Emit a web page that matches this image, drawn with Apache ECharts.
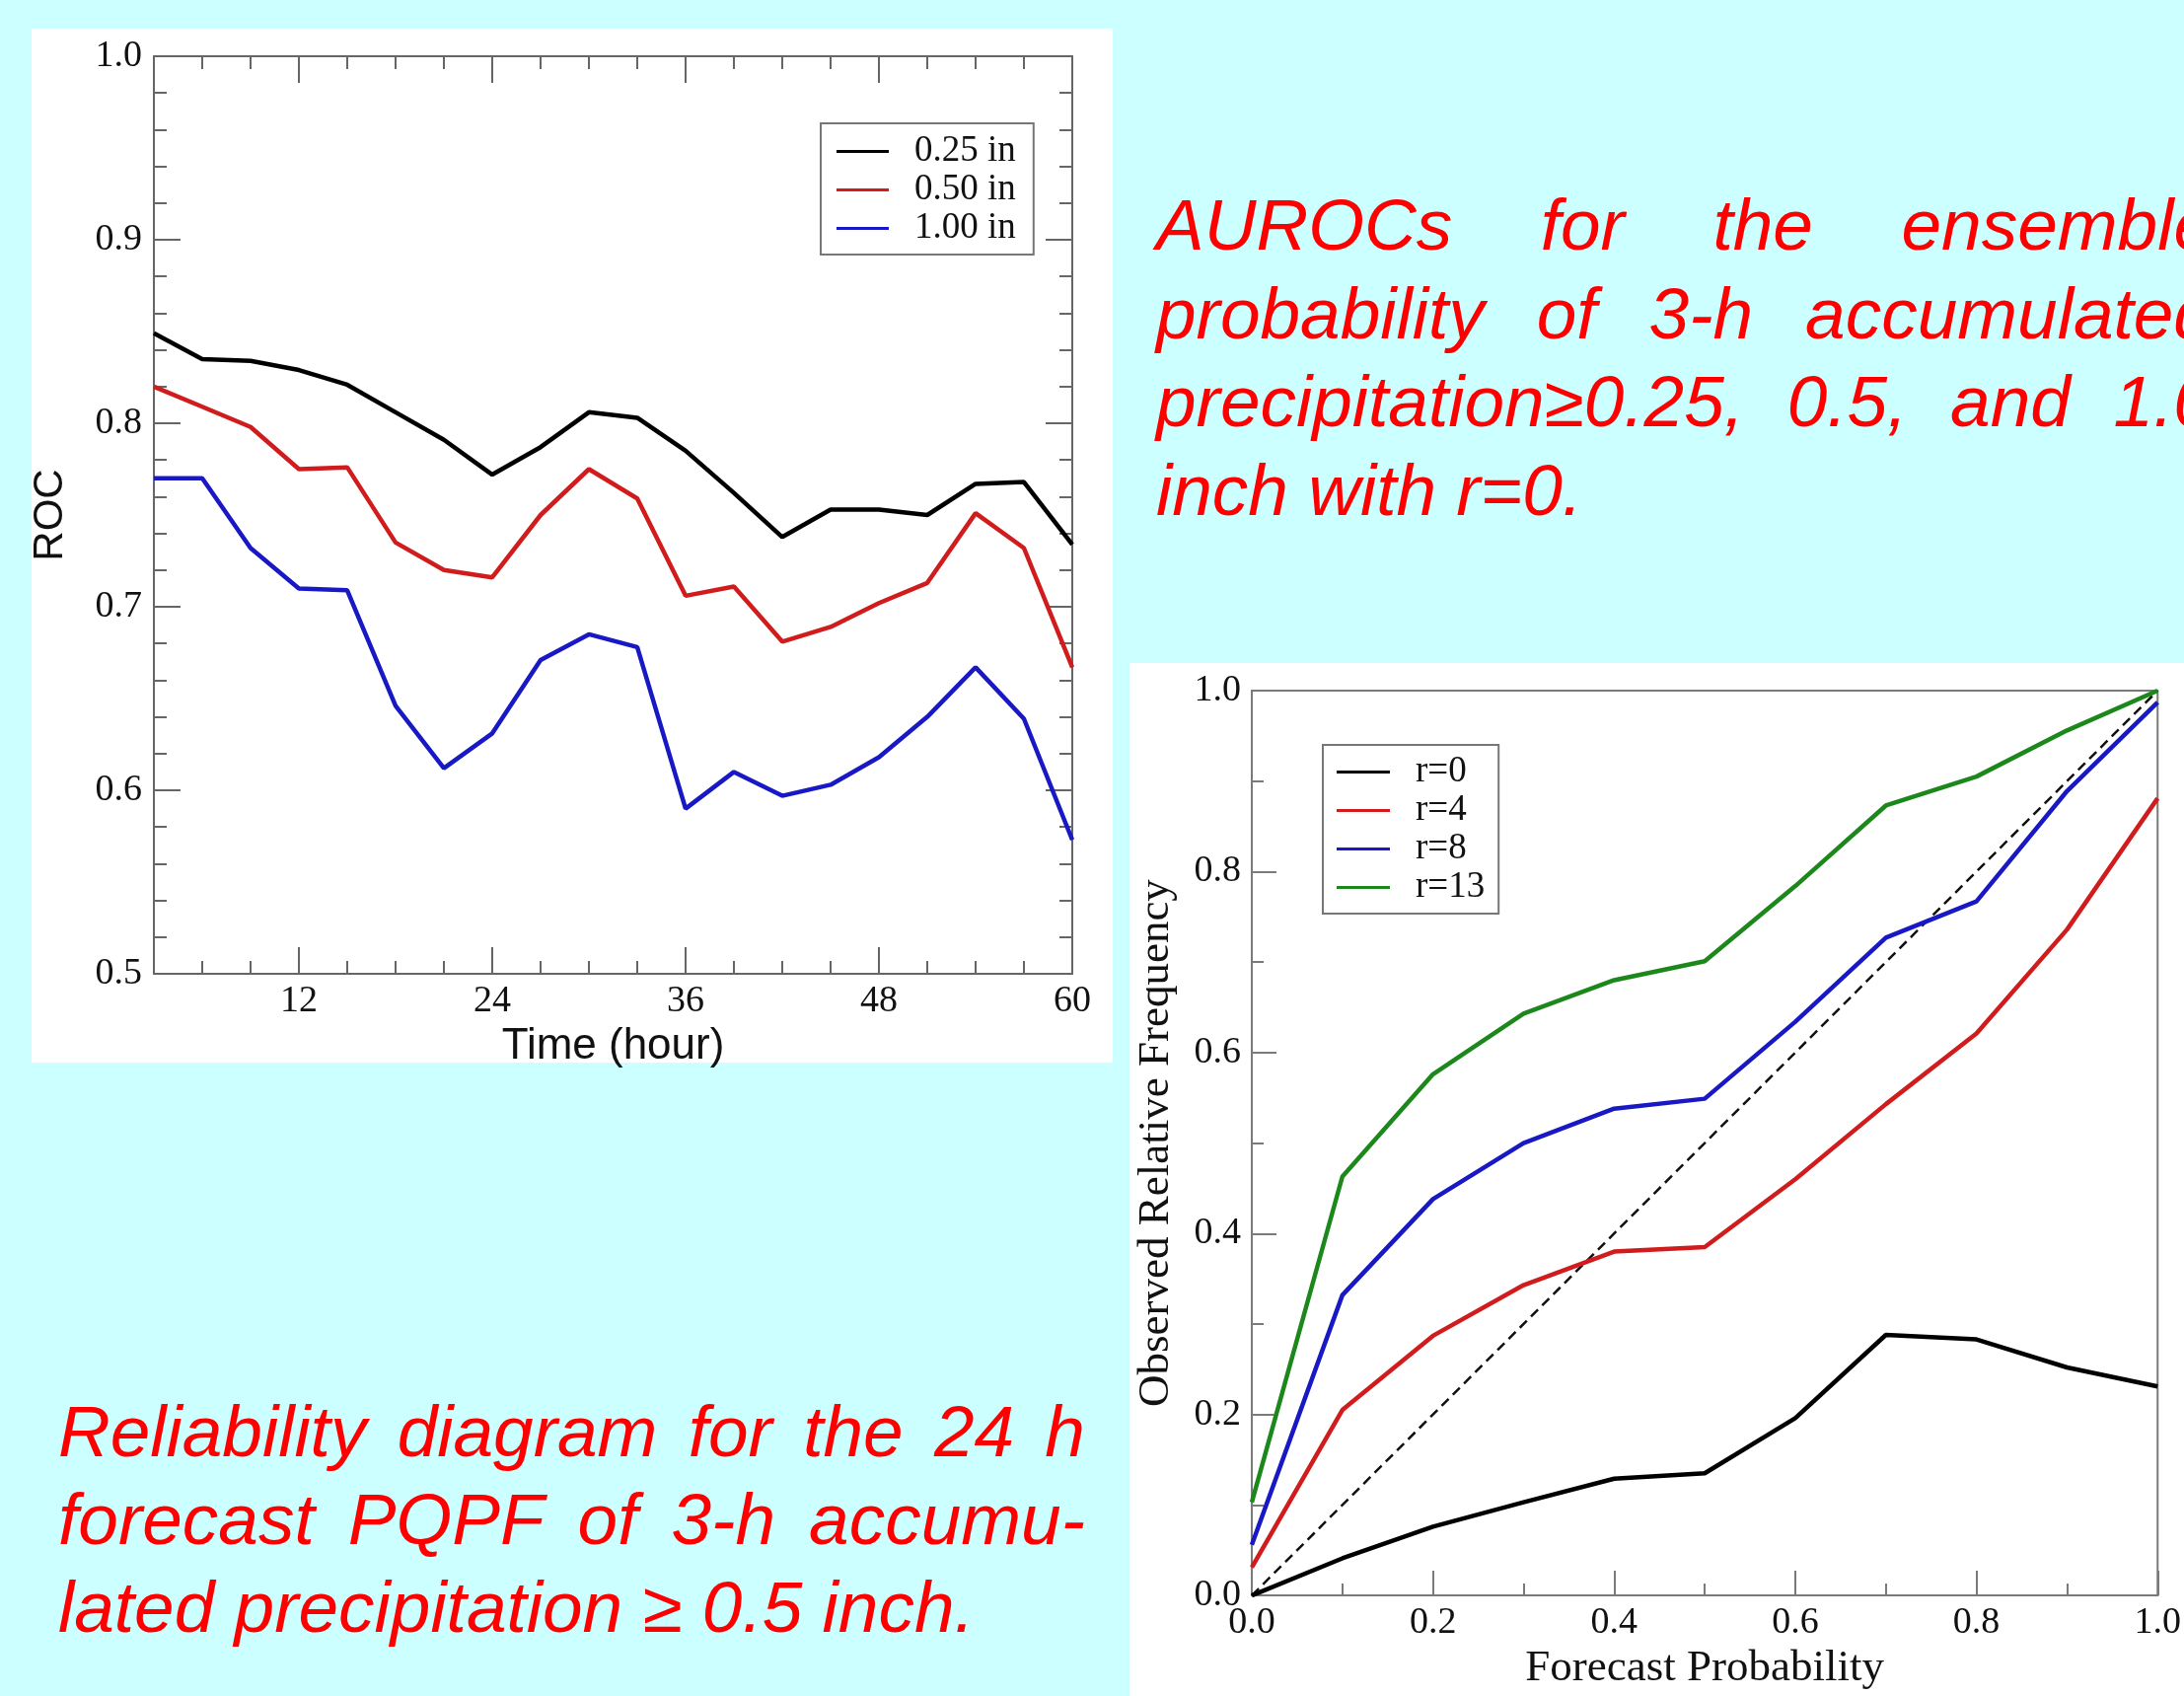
<!DOCTYPE html>
<html>
<head>
<meta charset="utf-8">
<script src="https://cdn.jsdelivr.net/npm/echarts@6/dist/echarts.min.js"></script>
<style>
html, body { margin:0; padding:0; width:2214px; height:1719px; overflow:hidden; background:#ccffff; }
.panel { position:absolute; background:#fff; }
.note { position:absolute; color:#ff0000; font-family:'Liberation Sans', Arial, sans-serif; font-style:italic; }
.note .ln { display:flex; justify-content:space-between; white-space:nowrap; }
.note .last { display:block; white-space:nowrap; }
#chart { position:absolute; left:0; top:0; width:2214px; height:1719px; }
</style>
</head>
<body>
<div class="panel" style="left:32px;top:29px;width:1096px;height:1048px;"></div>
<div class="panel" style="left:1145px;top:672px;width:1069px;height:1047px;"></div>

<div class="note" style="left:1172px;top:183px;width:1072px;font-size:73px;line-height:89.5px;">
  <div class="ln"><span>AUROCs</span><span>for</span><span>the</span><span>ensemble</span></div>
  <div class="ln"><span>probability</span><span>of</span><span>3-h</span><span>accumulated</span></div>
  <div class="ln"><span>precipitation≥0.25,</span><span>0.5,</span><span>and</span><span>1.0</span></div>
  <div class="last">inch with r=0.</div>
</div>

<div class="note" style="left:59px;top:1406px;width:1041px;font-size:73px;line-height:89px;">
  <div class="ln"><span>Reliability</span><span>diagram</span><span>for</span><span>the</span><span>24</span><span>h</span></div>
  <div class="ln"><span>forecast</span><span>PQPF</span><span>of</span><span>3-h</span><span>accumu-</span></div>
  <div class="last">lated precipitation ≥ 0.5 inch.</div>
</div>

<div id="chart"></div>
<script>
// left chart: AUROC vs forecast hour
var hours = [3, 6, 9, 12, 15, 18, 21, 24, 27, 30, 33, 36, 39, 42, 45, 48, 51, 54, 57, 60];
var roc025 = [0.849, 0.835, 0.834, 0.829, 0.821, 0.806, 0.791, 0.772, 0.787, 0.806, 0.803, 0.785, 0.762, 0.738, 0.753, 0.753, 0.750, 0.767, 0.768, 0.734];
var roc050 = [0.820, 0.809, 0.798, 0.775, 0.776, 0.735, 0.720, 0.716, 0.750, 0.775, 0.759, 0.706, 0.711, 0.681, 0.689, 0.702, 0.713, 0.751, 0.732, 0.667];
var roc100 = [0.770, 0.770, 0.732, 0.710, 0.709, 0.646, 0.612, 0.631, 0.671, 0.685, 0.678, 0.590, 0.610, 0.597, 0.603, 0.618, 0.640, 0.667, 0.639, 0.573];
var rocNames = ['0.25 in', '0.50 in', '1.00 in'];
var hourLabels = [12, 24, 36, 48, 60];
var hourMinor = [6, 9, 15, 18, 21, 27, 30, 33, 39, 42, 45, 51, 54, 57];

// right chart: reliability diagram
var fcstProb = [0, 0.1, 0.2, 0.3, 0.4, 0.5, 0.6, 0.7, 0.8, 0.9, 1.0];
var relR0 = [0.000, 0.041, 0.076, 0.103, 0.129, 0.135, 0.196, 0.288, 0.283, 0.252, 0.231];
var relR4 = [0.031, 0.205, 0.287, 0.343, 0.380, 0.385, 0.460, 0.543, 0.621, 0.736, 0.881];
var relR8 = [0.056, 0.332, 0.438, 0.500, 0.538, 0.549, 0.634, 0.727, 0.767, 0.889, 0.987];
var relR13 = [0.103, 0.463, 0.576, 0.643, 0.680, 0.701, 0.784, 0.873, 0.905, 0.956, 1.000];
var relNames = ['r=0', 'r=4', 'r=8', 'r=13'];
var perfect = [0, 1];

var cBlack = '#000000', cRed = '#d01c1c', cBlue = '#1818c4', cGreen = '#1c881c';
var frameGray = '#666666';
var lineW = 4.5;

function pairs(xs, ys) {
  return xs.map(function (x, i) { return [x, ys[i]]; });
}
function tickFont() {
  return { fontFamily: 'Liberation Serif', fontSize: 38, color: '#111' };
}
var fmt1 = function (v) { return v.toFixed(1); };

var leftRect = { left: 156, top: 57, width: 931, height: 930 };
var rightRect = { left: 1269, top: 700, width: 931, height: 929 };

function legendBox(names, left, top, pad, w) {
  return {
    data: names.map(function (n) { return { name: n, icon: 'rect' }; }),
    orient: 'vertical', left: left, top: top,
    padding: pad, itemGap: 2, itemWidth: w, itemHeight: 3,
    borderColor: '#777', borderWidth: 2, backgroundColor: '#fff',
    textStyle: { fontFamily: 'Liberation Serif', fontSize: 37, lineHeight: 34, color: '#111', padding: [0, 0, 0, 21] }
  };
}

var option = {
  animation: false,
  backgroundColor: 'transparent',
  grid: [
    { left: leftRect.left, top: leftRect.top, width: leftRect.width, height: leftRect.height },
    { left: leftRect.left, top: leftRect.top, width: leftRect.width, height: leftRect.height },
    { left: rightRect.left, top: rightRect.top, width: rightRect.width, height: rightRect.height,
      show: true, borderColor: '#7a7a7a', borderWidth: 2 }
  ],
  xAxis: [
    { gridIndex: 0, type: 'value', position: 'bottom', min: 3, max: 60,
      axisLine: { show: true, onZero: false, lineStyle: { color: frameGray, width: 2 } },
      axisTick: { show: true, inside: true, length: 13, customValues: hourMinor, lineStyle: { color: frameGray, width: 2 } },
      axisLabel: { customValues: hourLabels, margin: 9, ...tickFont() },
      splitLine: { show: false },
      name: 'Time (hour)', nameLocation: 'middle', nameGap: 47,
      nameTextStyle: { fontFamily: 'Liberation Sans', fontSize: 44, color: '#111' } },
    { gridIndex: 0, type: 'value', position: 'top', min: 3, max: 60,
      axisLine: { show: true, onZero: false, lineStyle: { color: frameGray, width: 2 } },
      axisTick: { show: true, inside: true, length: 13, customValues: hourMinor, lineStyle: { color: frameGray, width: 2 } },
      axisLabel: { show: false }, splitLine: { show: false } },
    { gridIndex: 1, type: 'value', position: 'bottom', min: 3, max: 60,
      axisLine: { show: false, onZero: false },
      axisTick: { show: true, inside: true, length: 27, customValues: hourLabels, lineStyle: { color: frameGray, width: 2 } },
      axisLabel: { show: false }, splitLine: { show: false } },
    { gridIndex: 1, type: 'value', position: 'top', min: 3, max: 60,
      axisLine: { show: false, onZero: false },
      axisTick: { show: true, inside: true, length: 27, customValues: hourLabels, lineStyle: { color: frameGray, width: 2 } },
      axisLabel: { show: false }, splitLine: { show: false } },
    { gridIndex: 2, type: 'value', position: 'bottom', min: 0, max: 1, interval: 0.2,
      axisLine: { show: true, onZero: false, lineStyle: { color: '#7a7a7a', width: 2 } },
      axisTick: { show: true, inside: true, length: 25, lineStyle: { color: '#7a7a7a', width: 2 } },
      minorTick: { show: true, splitNumber: 2, length: 12, lineStyle: { color: '#7a7a7a', width: 2 } },
      axisLabel: { formatter: fmt1, margin: 9, ...tickFont() },
      splitLine: { show: false },
      name: 'Forecast Probability', nameLocation: 'middle', nameGap: 45,
      nameTextStyle: { fontFamily: 'Liberation Serif', fontSize: 45, color: '#111' } }
  ],
  yAxis: [
    { gridIndex: 0, type: 'value', position: 'left', min: 0.5, max: 1.0, interval: 0.1,
      axisLine: { show: true, onZero: false, lineStyle: { color: frameGray, width: 2 } },
      axisTick: { show: true, inside: true, length: 27, lineStyle: { color: frameGray, width: 2 } },
      minorTick: { show: true, splitNumber: 5, length: 13, lineStyle: { color: frameGray, width: 2 } },
      axisLabel: { formatter: fmt1, margin: 12, ...tickFont() },
      splitLine: { show: false },
      name: 'ROC', nameLocation: 'middle', nameGap: 84,
      nameTextStyle: { fontFamily: 'Liberation Sans', fontSize: 42, color: '#111' } },
    { gridIndex: 0, type: 'value', position: 'right', min: 0.5, max: 1.0, interval: 0.1,
      axisLine: { show: true, onZero: false, lineStyle: { color: frameGray, width: 2 } },
      axisTick: { show: true, inside: true, length: 27, lineStyle: { color: frameGray, width: 2 } },
      minorTick: { show: true, splitNumber: 5, length: 13, lineStyle: { color: frameGray, width: 2 } },
      axisLabel: { show: false }, splitLine: { show: false } },
    { gridIndex: 1, type: 'value', min: 0.5, max: 1.0, show: false },
    { gridIndex: 2, type: 'value', position: 'left', min: 0, max: 1, interval: 0.2,
      axisLine: { show: true, onZero: false, lineStyle: { color: '#7a7a7a', width: 2 } },
      axisTick: { show: true, inside: true, length: 25, lineStyle: { color: '#7a7a7a', width: 2 } },
      minorTick: { show: true, splitNumber: 2, length: 12, lineStyle: { color: '#7a7a7a', width: 2 } },
      axisLabel: { formatter: fmt1, margin: 11, ...tickFont() },
      splitLine: { show: false },
      name: 'Observed Relative Frequency', nameLocation: 'middle', nameGap: 74,
      nameTextStyle: { fontFamily: 'Liberation Serif', fontSize: 45, color: '#111' } }
  ],
  legend: [
    legendBox(rocNames, 832, 125, [10, 18, 8, 16], 53),
    legendBox(relNames, 1341, 755, [9, 14, 8, 14], 54)
  ],
  series: [
    { name: rocNames[0], type: 'line', xAxisIndex: 0, yAxisIndex: 0, data: pairs(hours, roc025),
      symbol: 'none', color: cBlack, lineStyle: { width: lineW, color: cBlack } },
    { name: rocNames[1], type: 'line', xAxisIndex: 0, yAxisIndex: 0, data: pairs(hours, roc050),
      symbol: 'none', color: cRed, lineStyle: { width: lineW, color: cRed } },
    { name: rocNames[2], type: 'line', xAxisIndex: 0, yAxisIndex: 0, data: pairs(hours, roc100),
      symbol: 'none', color: cBlue, lineStyle: { width: lineW, color: cBlue } },
    { name: 'perfect', type: 'line', xAxisIndex: 4, yAxisIndex: 3, data: pairs(perfect, perfect),
      symbol: 'none', color: '#000', lineStyle: { width: 2.5, color: '#111', type: [10, 6] } },
    { name: relNames[0], type: 'line', xAxisIndex: 4, yAxisIndex: 3, data: pairs(fcstProb, relR0),
      symbol: 'none', color: cBlack, lineStyle: { width: lineW, color: cBlack } },
    { name: relNames[1], type: 'line', xAxisIndex: 4, yAxisIndex: 3, data: pairs(fcstProb, relR4),
      symbol: 'none', color: cRed, lineStyle: { width: lineW, color: cRed } },
    { name: relNames[2], type: 'line', xAxisIndex: 4, yAxisIndex: 3, data: pairs(fcstProb, relR8),
      symbol: 'none', color: cBlue, lineStyle: { width: lineW, color: cBlue } },
    { name: relNames[3], type: 'line', xAxisIndex: 4, yAxisIndex: 3, data: pairs(fcstProb, relR13),
      symbol: 'none', color: cGreen, lineStyle: { width: lineW, color: cGreen } }
  ]
};

var myChart = echarts.init(document.getElementById('chart'));
myChart.setOption(option);
</script>
</body>
</html>
